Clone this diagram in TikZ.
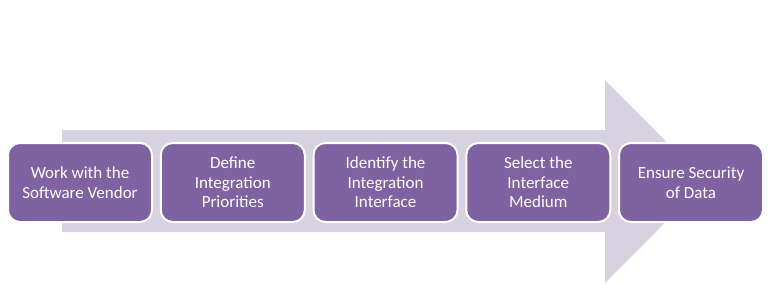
\documentclass[tikz,border=0pt]{standalone}
\usepackage{fontspec}
\setmainfont{Carlito}
\definecolor{boxfill}{HTML}{7F62A1}
\definecolor{arrowfill}{HTML}{D7D2E1}
\begin{document}
\begin{tikzpicture}[x=1pt,y=-1pt,
  stepbox/.style={draw=white,line width=2pt,fill=boxfill,rounded corners=12pt,
    minimum width=144pt,minimum height=79pt,inner sep=2pt,text=white,align=center,
    font=\fontsize{17}{19.5}\selectfont}]
\useasboundingbox (0,0) rectangle (770,284);
\fill[arrowfill] (62,130) -- (605,130) -- (605,80) -- (706,181.5) -- (605,283) -- (605,232) -- (62,232) -- cycle;
\node[stepbox] (s1) at (80,182.5) {Work with the\\Software Vendor};
\node[stepbox] (s2) at (232.75,182.5) {Define\\Integration\\Priorities};
\node[stepbox] (s3) at (385.5,182.5) {Identify the\\Integration\\Interface};
\node[stepbox] (s4) at (538.25,182.5) {Select the\\Interface\\Medium};
\node[stepbox] (s5) at (691,182.5) {Ensure Security\\of Data};
\end{tikzpicture}
\end{document}
